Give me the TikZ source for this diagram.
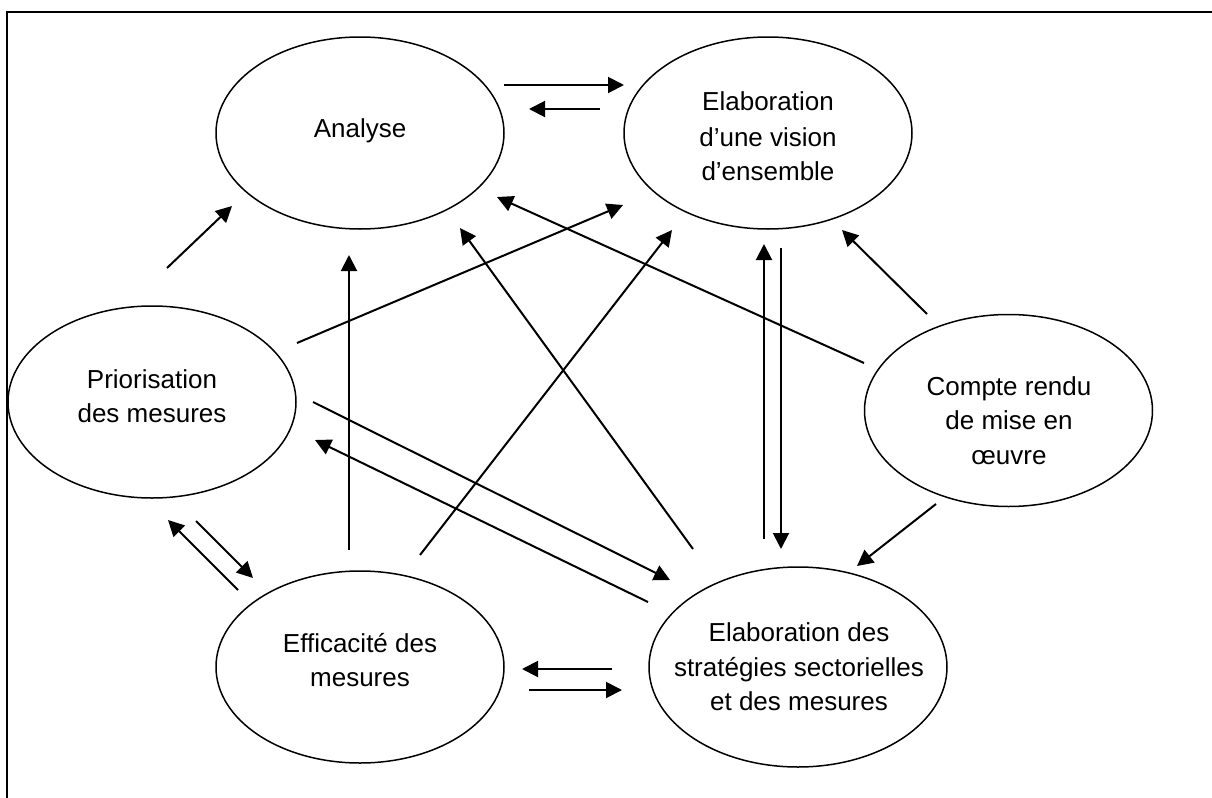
\documentclass[tikz,border=0pt]{standalone}
\usepackage{fontspec}
\setmainfont{Liberation Sans}
\usetikzlibrary{arrows.meta,shapes.geometric}
\begin{document}
\begin{tikzpicture}[x=0.5pt,y=-0.5pt,
  ell/.style={draw, ellipse, line width=0.75pt, minimum width=144pt, minimum height=96pt, inner sep=0pt},
  lbl/.style={anchor=base, font=\fontsize{13pt}{17pt}\selectfont, inner sep=0pt},
  arr/.style={-{Triangle[length=8pt,width=8pt]}, line width=1pt},
  frameline/.style={line width=1pt}]
\useasboundingbox (0,0) rectangle (1212,798);
% frame
\coordinate (fbl) at (7,798);
\coordinate (ftl) at (7,11.5);
\coordinate (ftr) at (1212,11.5);
\draw[frameline] (fbl) -- (ftl) -- (ftr);

% ellipses
\node[ell] (an) at (360,133) {};
\node[ell] (vi) at (768,133) {};
\node[ell] (pr) at (152,402) {};
\node[ell] (cr) at (1008.5,410.5) {};
\node[ell] (ef) at (360,667) {};
\node[ell, minimum width=149pt, minimum height=100pt] (st) at (798,667) {};

% texts
\node[lbl] (antx) at (360,137) {Analyse};
\node[lbl] (vit1) at (768,110) {Elaboration};
\node[lbl] (vit2) at (768,146) {d’une vision};
\node[lbl] (vit3) at (768,180) {d’ensemble};
\node[lbl] (prt1) at (152,388) {Priorisation};
\node[lbl] (prt2) at (152,422) {des mesures};
\node[lbl] (crt1) at (1009,395) {Compte rendu};
\node[lbl] (crt2) at (1009,429) {de mise en};
\node[lbl] (crt3) at (1009,464) {œuvre};
\node[lbl] (eft1) at (360,652) {Efficacité des};
\node[lbl] (eft2) at (360,686) {mesures};
\node[lbl] (stt1) at (799,641) {Elaboration des};
\node[lbl] (stt2) at (799,676) {stratégies sectorielles};
\node[lbl] (stt3) at (799,710) {et des mesures};

% connector end points
\coordinate (a1s) at (504,85);   \coordinate (a1e) at (624,85);
\coordinate (a2s) at (600,109);  \coordinate (a2e) at (529,109);
\coordinate (a3s) at (167,268);  \coordinate (a3e) at (232,206);
\coordinate (a4s) at (349,550);  \coordinate (a4e) at (349,255);
\coordinate (a5s) at (297,343);  \coordinate (a5e) at (623,205);
\coordinate (a6s) at (420,555);  \coordinate (a6e) at (672,230);
\coordinate (a7s) at (864,363);  \coordinate (a7e) at (497,197);
\coordinate (a8s) at (693,549);  \coordinate (a8e) at (460,228);
\coordinate (a9s) at (764,539);  \coordinate (a9e) at (764,244);
\coordinate (a10s) at (781,248); \coordinate (a10e) at (781,549);
\coordinate (a11s) at (927,314); \coordinate (a11e) at (842,230);
\coordinate (a12s) at (936,504); \coordinate (a12e) at (857,566);
\coordinate (a13s) at (313,402); \coordinate (a13e) at (670,580);
\coordinate (a14s) at (648,602); \coordinate (a14e) at (315,440);
\coordinate (a15s) at (238,590); \coordinate (a15e) at (168,520);
\coordinate (a16s) at (196,521); \coordinate (a16e) at (253,578);
\coordinate (a17s) at (612,669); \coordinate (a17e) at (522,669);
\coordinate (a18s) at (529,690); \coordinate (a18e) at (622,690);

\foreach \i in {1,...,18} {\draw[arr] (a\i s) -- (a\i e);}
\end{tikzpicture}
\end{document}
